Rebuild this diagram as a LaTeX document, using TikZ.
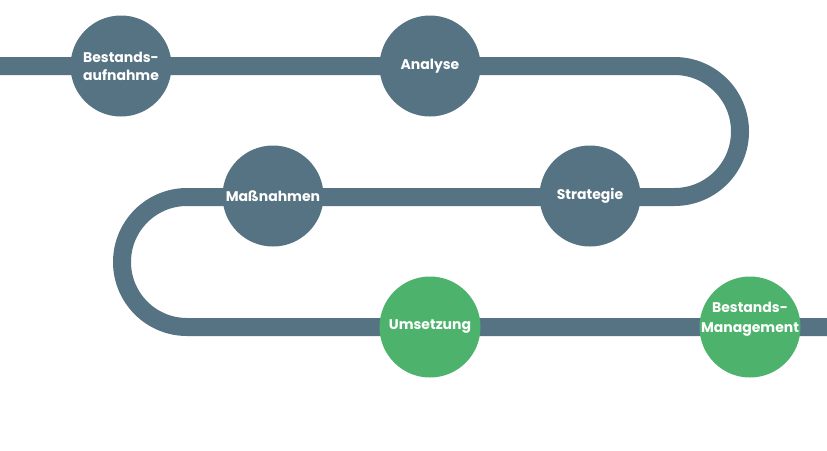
\documentclass[tikz,border=0pt]{standalone}
\usepackage{fontspec}
\setmainfont{Poppins}
\definecolor{slate}{HTML}{557383}
\definecolor{leaf}{HTML}{4DB26B}
\begin{document}
\begin{tikzpicture}[x=1pt,y=1pt,
  track/.style={draw=slate, line width=18pt},
  stepnode/.style={circle, minimum size=101pt, inner sep=0pt, fill=slate, text=white,
    font=\bfseries\fontsize{14}{18}\selectfont, align=center},
  donenode/.style={stepnode, fill=leaf},
  steptext/.style={text=white, inner sep=0pt, font=\bfseries\fontsize{14}{20}\selectfont, align=center}]
\useasboundingbox (0,0) rectangle (827,-450);
\coordinate (s) at (0,-66);
\coordinate (e) at (827,-327);
\draw[track] (s) -- (674.5,-66) arc[start angle=90, end angle=-90, radius=65.5]
  -- (187,-197) arc[start angle=90, end angle=270, radius=65] -- (e);
\node[stepnode] (a) at (121,-66) {Bestands-\\aufnahme};
\node[stepnode] (b) at (430,-66) {Analyse};
\node[stepnode] (c) at (590,-196) {Strategie};
\node[stepnode] (d) at (273,-196) {Maßnahmen};
\node[donenode] (f) at (430,-327) {Umsetzung};
\node[donenode] (g) at (750,-327) {};
\node[steptext] (gt) at ([yshift=8]g.center) {Bestands-\\Management};
\end{tikzpicture}
\end{document}
